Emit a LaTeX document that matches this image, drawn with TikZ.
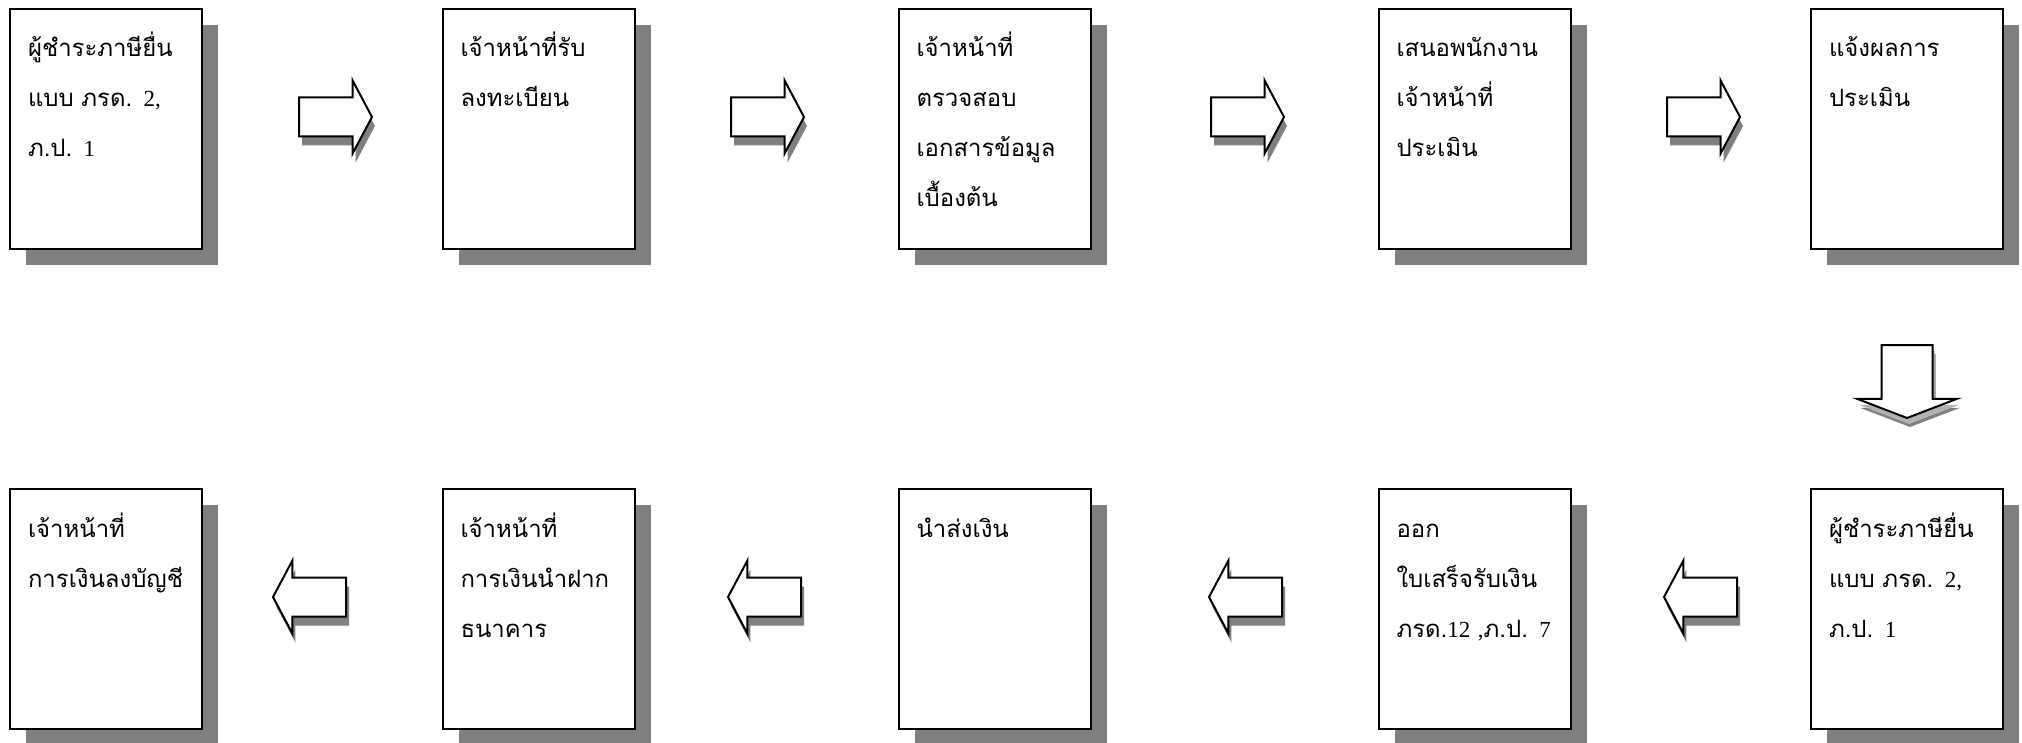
\documentclass[tikz,border=0pt]{standalone}
\usepackage{fontspec}
\setmainfont{Liberation Serif}
\newfontfamily\thaifont[Script=Thai,Scale=1.04]{Loma}
\usetikzlibrary{shapes.arrows,shadows,positioning}
\newcommand{\thai}[1]{{\thaifont #1}}
\tikzset{
	stepbox/.style={draw,line width=1pt,fill=white,align=left,text width=78pt,
		inner xsep=9pt,inner ysep=0pt,text height=24pt,text depth=96pt,
		font=\fontsize{11.5}{25}\selectfont,
		drop shadow={shadow xshift=8pt,shadow yshift=-8pt,fill=black!50,opacity=1}},
	flow/.style={single arrow,draw,line width=1pt,fill=white,inner xsep=0pt,inner ysep=9.25pt,
		minimum height=36.5pt,single arrow head extend=8.5pt,
		single arrow tip angle=124,anchor=tail,
		drop shadow={shadow xshift=1.5pt,shadow yshift=-4.5pt,fill=black!50,opacity=1}},
	flowleft/.style={flow,shape border rotate=180},
	flowdown/.style={flow,shape border rotate=270,inner xsep=12.25pt,inner ysep=12.25pt,
		single arrow head extend=12.25pt,single arrow tip angle=138,
		drop shadow={shadow xshift=1pt,shadow yshift=-3pt,fill=black!30,opacity=1}}
}
\begin{document}
\begin{tikzpicture}[x=0.5pt,y=-0.5pt]
	\useasboundingbox (0,0) rectangle (2022,743);
	% top row
	\node[stepbox] (b1) at (106,129) {\thai{ผู้ชำระภาษียื่น}\\\thai{แบบ ภรด.} 2,\\\thai{ภ.ป.} 1};
	\node[stepbox] (b2) at (538.5,129) {\thai{เจ้าหน้าที่รับ}\\\thai{ลงทะเบียน}};
	\node[stepbox] (b3) at (994.5,129) {\thai{เจ้าหน้าที่}\\\thai{ตรวจสอบ}\\\thai{เอกสารข้อมูล}\\\thai{เบื้องต้น}};
	\node[stepbox] (b4) at (1474.5,129) {\thai{เสนอพนักงาน}\\\thai{เจ้าหน้าที่}\\\thai{ประเมิน}};
	\node[stepbox] (b5) at (1907,129) {\thai{แจ้งผลการ}\\\thai{ประเมิน}};
	% bottom row
	\node[stepbox] (b6) at (1907,609) {\thai{ผู้ชำระภาษียื่น}\\\thai{แบบ ภรด.} 2,\\\thai{ภ.ป.} 1};
	\node[stepbox] (b7) at (1474.5,609) {\thai{ออก}\\\thai{ใบเสร็จรับเงิน}\\\thai{ภรด.}12 ,\thai{ภ.ป.} 7};
	\node[stepbox] (b8) at (994.5,609) {\thai{นำส่งเงิน}};
	\node[stepbox] (b9) at (538.5,609) {\thai{เจ้าหน้าที่}\\\thai{การเงินนำฝาก}\\\thai{ธนาคาร}};
	\node[stepbox] (b10) at (106,609) {\thai{เจ้าหน้าที่}\\\thai{การเงินลงบัญชี}};
	% arrows
	\node[flow] (a1) at (298,117) {};
	\node[flow] (a2) at (730,117) {};
	\node[flow] (a3) at (1210,117) {};
	\node[flow] (a4) at (1666,117) {};
	\node[flowdown] (a5) at (1907,344) {};
	\node[flowleft] (a6) at (1738,597) {};
	\node[flowleft] (a7) at (1283,597) {};
	\node[flowleft] (a8) at (802,597) {};
	\node[flowleft] (a9) at (347,597) {};
\end{tikzpicture}
\end{document}
